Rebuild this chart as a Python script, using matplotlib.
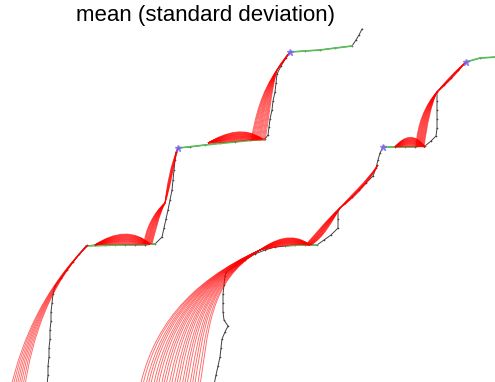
import matplotlib
matplotlib.use("Agg")
import matplotlib.pyplot as plt
from matplotlib.path import Path
from matplotlib.patches import PathPatch

# demonstrated trajectories (black), x / y in picture units, y grows downward
demo_a_x = [47, 48, 48, 49, 49, 50, 50, 51, 51, 52, 53, 55, 61, 67, 73, 79, 86, 95, 105, 115, 125,
            135, 145, 155, 162, 164, 166, 168, 170, 172, 173, 174, 175, 176, 178, 190, 205, 220, 235,
            250, 265, 268, 269, 270, 272, 273, 275, 276, 277, 281, 286, 290, 305, 320, 335, 352, 356,
            359, 362]
demo_a_y = [385, 375, 366, 357, 348, 339, 330, 321, 312, 303, 294, 286, 278, 270, 262, 254, 246, 245,
            245, 245, 245, 245, 245, 244, 237, 228, 219, 210, 200, 190, 180, 170, 160, 152, 148, 147,
            145, 143, 142, 140, 139, 135, 127, 119, 110, 101, 92, 83, 74, 66, 58, 52, 51, 50, 48, 46,
            40, 35, 29]

demo_b_x = [214, 216, 218, 220, 221, 222, 225, 228, 224, 223, 223, 223, 224, 225, 226, 235, 245, 255,
            265, 275, 285, 295, 305, 317, 324, 331, 338, 338, 338, 345, 352, 359, 366, 373, 376, 378,
            380, 383, 395, 405, 415, 425, 431, 436, 437, 437, 437, 437, 437, 444, 451, 458, 466, 480,
            497]
demo_b_y = [385, 375, 366, 357, 348, 339, 332, 326, 320, 312, 303, 294, 285, 276, 272, 266, 260, 254,
            250, 247, 246, 245, 245, 245, 240, 235, 228, 219, 210, 203, 197, 190, 183, 176, 168, 160,
            153, 147, 147, 147, 147, 146, 141, 136, 128, 119, 110, 101, 92, 85, 78, 70, 62, 58, 57]

# straight (green) pieces of the mean path
green_segments = [
    ([86, 120, 155], [246, 245, 244]),
    ([178, 205, 235, 265], [148, 145, 142, 139]),
    ([290, 320, 352], [52, 50, 46]),
    ([285, 300, 317], [246, 245, 245]),
    ([383, 405, 425], [147, 147, 146]),
    ([466, 480, 497], [62, 58, 57]),
]

# via points (blue)
via_x = [178, 290, 383, 466]
via_y = [148, 52, 147, 62]

# sampled reproductions (red): cubic control points, spread of each control point, strand offsets
offs_few = [-0.5, -0.36, -0.21, -0.07, 0.07, 0.21, 0.36, 0.5]
offs_mid = [-0.5, -0.43, -0.36, -0.29, -0.21, -0.14, -0.07, 0.0, 0.07, 0.14, 0.21, 0.29, 0.36,
            0.43, 0.5]
offs_many = [-0.5, -0.46, -0.41, -0.37, -0.33, -0.28, -0.24, -0.2, -0.15, -0.11, -0.07, -0.02,
             0.02, 0.07, 0.11, 0.15, 0.2, 0.24, 0.28, 0.33, 0.37, 0.41, 0.46, 0.5]
offs_bulge = [-0.6, -0.52, -0.45, -0.38, -0.3, -0.22, -0.15, -0.08, 0.0, 0.08, 0.15, 0.22, 0.3,
              0.38, 0.45, 0.52, 0.6, 0.7, 0.8, 0.9]

fans = [
    # curve A
    ([(17, 392), (27, 335), (50, 283), (88, 245)], [(14, 0), (10, 0), (2, 0), (0, 0)], offs_few),
    ([(95, 245), (115, 236), (135, 236), (150, 244)], [(0, 0), (0, 8), (0, 10), (0, 0)], offs_bulge),
    ([(148, 244), (150, 232), (156, 214), (165, 203)], [(8, 0), (10, 2), (6, 2), (0, 0)], offs_mid),
    ([(165, 203), (169, 185), (172, 165), (178, 148)], [(0, 0), (4, 0), (3, 0), (0, 0)], offs_few),
    ([(208, 143), (226, 136), (246, 132), (262, 139)], [(0, 0), (0, 7), (0, 9), (0, 0)], offs_bulge),
    ([(258, 141), (262, 118), (266, 92), (277, 70)], [(14, 0), (14, 0), (10, 0), (0, 0)], offs_mid),
    ([(277, 70), (281, 64), (286, 57), (290, 52)], [(0, 0), (2, 0), (1, 0), (0, 0)], offs_few),
    # curve B
    ([(169, 392), (180, 330), (198, 282), (260, 250)], [(60, 0), (58, 0), (20, 0), (0, 0)], offs_many),
    ([(260, 250), (274, 243), (292, 236), (310, 245)], [(0, 0), (0, 5), (0, 8), (0, 0)], offs_bulge),
    ([(308, 245), (318, 238), (328, 222), (340, 208)], [(6, 0), (12, -2), (6, 2), (0, 0)], offs_mid),
    ([(340, 208), (352, 197), (366, 184), (378, 165)], [(0, 0), (3, 3), (2, 2), (0, 0)], offs_few),
    ([(395, 147), (404, 140), (415, 138), (425, 147)], [(0, 0), (0, 7), (0, 9), (0, 0)], offs_bulge),
    ([(420, 147), (422, 125), (428, 105), (437, 92)], [(8, 0), (10, 0), (6, 0), (0, 0)], offs_mid),
    ([(437, 92), (447, 82), (456, 72), (466, 62)], [(0, 0), (2, 2), (2, 2), (0, 0)], offs_few),
]

fig = plt.figure(figsize=(4.95, 3.82), dpi=100)
ax = fig.add_axes([0, 0, 1, 1])
ax.set_xlim(0, 495)
ax.set_ylim(382, 0)
ax.axis("off")

for xs, ys in [(demo_a_x, demo_a_y), (demo_b_x, demo_b_y)]:
    ax.plot(xs, ys, color="#404040", lw=0.7, marker="+", ms=1.8, mew=0.4, zorder=1)

for xs, ys in green_segments:
    ax.plot(xs, ys, color="#5cbf5c", lw=1.2, zorder=2)

codes = [Path.MOVETO, Path.CURVE4, Path.CURVE4, Path.CURVE4]
for ctrl, spread, offs in fans:
    for o in offs:
        pts = [(cx + o * dx, cy + o * dy) for (cx, cy), (dx, dy) in zip(ctrl, spread)]
        ax.add_patch(PathPatch(Path(pts, codes), fill=False, edgecolor="red",
                               lw=0.65, alpha=0.6, zorder=3))

ax.plot(via_x, via_y, ls="none", marker="*", ms=5, color="#7b68ee", alpha=0.75, zorder=4)

fig.text(205 / 495, 1 - 16 / 382, "mean (standard deviation)", ha="center", va="center",
         fontsize=16, family=["Liberation Sans", "DejaVu Sans"])

fig.savefig("out.png", dpi=100)
